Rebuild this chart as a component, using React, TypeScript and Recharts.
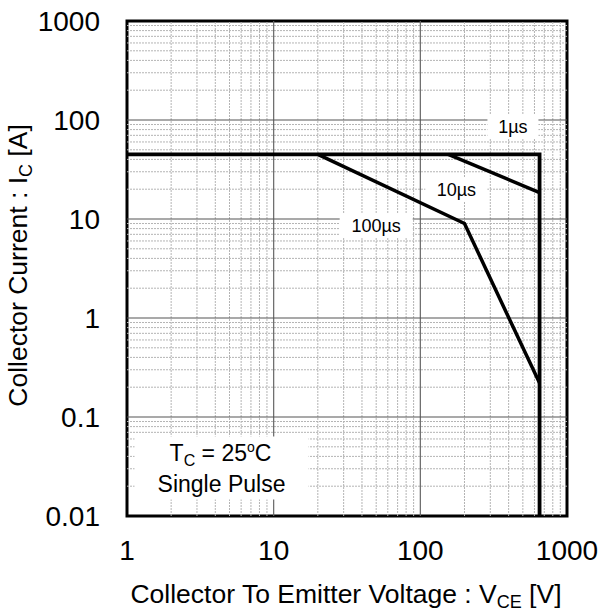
import React from 'react';
import { LineChart, Line, XAxis, YAxis, ReferenceLine, ReferenceArea, ReferenceDot, Label } from 'recharts';

const FONT = '"Liberation Sans", Arial, Helvetica, sans-serif';

const xTicks = [1, 10, 100, 1000];
const yTicks = [0.01, 0.1, 1, 10, 100, 1000];
const xMajorGrid = [10, 100];
const yMajorGrid = [0.1, 1, 10, 100];
const minorSteps = [2, 3, 4, 5, 6, 7, 8, 9];
const xDecades = [1, 10, 100];
const yDecades = [0.01, 0.1, 1, 10, 100];

// SOA boundaries (VCE [V], IC [A])
const pulse1us = [
  { v: 1, i: 45 },
  { v: 650, i: 45 },
  { v: 650, i: 0.01 },
];
const pulse10us = [
  { v: 155, i: 45 },
  { v: 650, i: 18.5 },
];
const pulse100us = [
  { v: 20, i: 45 },
  { v: 200, i: 9 },
  { v: 650, i: 0.22 },
];

const curveLabels = [
  { text: '1µs', v: 428, i: 85 },
  { text: '10µs', v: 176, i: 20 },
  { text: '100µs', v: 50, i: 8.5 },
];
const noteAnchor = { v: 4.41, i: 0.0302 };

const xMinorGrid = xDecades.flatMap((d) => minorSteps.map((s) => d * s));
const yMinorGrid = yDecades.flatMap((d) => minorSteps.map((s) => +(d * s).toPrecision(3)));

const CurveLabel = (text: string) => (props: any) => {
  const { cx, cy } = props;
  const w = text.length * 11 + 18;
  const h = 24;
  return (
    <g>
      <rect x={cx - w / 2} y={cy - h / 2} width={w} height={h} fill="#fff" />
      <text x={cx} y={cy + 6.5} textAnchor="middle" fontFamily={FONT} fontSize={18} fill="#000">
        {text}
      </text>
    </g>
  );
};

const NoteBox = (props: any) => {
  const { cx, cy } = props;
  return (
    <g>
      <rect x={cx - 87} y={cy - 32} width={174} height={63} fill="#fff" />
      <text x={cx - 1} y={cy - 7} textAnchor="middle" fontFamily={FONT} fontSize={23} fill="#000">
        T<tspan fontSize={16} dy={5}>C</tspan>
        <tspan dy={-5}> = 25</tspan>
        <tspan fontSize={14} dy={-9}>o</tspan>
        <tspan dy={9}>C</tspan>
      </text>
      <text x={cx} y={cy + 23.5} textAnchor="middle" fontFamily={FONT} fontSize={23} fill="#000">
        Single Pulse
      </text>
    </g>
  );
};

const XTitle = (props: any) => {
  const vb = props.viewBox || { x: 127, y: 516, width: 440, height: 96 };
  return (
    <text x={vb.x + vb.width / 2 - 1} y={vb.y + 87} textAnchor="middle" fontFamily={FONT} fontSize={26.5} fill="#000">
      Collector To Emitter Voltage : V<tspan fontSize={18} dy={5}>CE</tspan>
      <tspan dy={-5}> [V]</tspan>
    </text>
  );
};

const YTitle = (props: any) => {
  const vb = props.viewBox || { x: 0, y: 21, width: 127, height: 495 };
  const x = 27;
  const y = vb.y + vb.height / 2 - 3;
  return (
    <text x={x} y={y} transform={`rotate(-90, ${x}, ${y})`} textAnchor="middle" fontFamily={FONT} fontSize={26.5} fill="#000">
      Collector Current : I<tspan fontSize={18} dy={5}>C</tspan>
      <tspan dy={-5}> [A]</tspan>
    </text>
  );
};

export default function App() {
  return (
    <div style={{ position: 'absolute', left: 0, top: 0, width: 601, height: 612 }}>
      <LineChart width={601} height={612} margin={{ top: 21, right: 34, bottom: 0, left: 0 }}>
        <XAxis
          dataKey="v"
          type="number"
          scale="log"
          domain={[1, 1000]}
          ticks={xTicks}
          allowDataOverflow
          axisLine={false}
          tickLine={false}
          tickSize={0}
          tickMargin={24}
          height={96}
          interval={0}
          tick={{ fontFamily: FONT, fontSize: 28, fill: '#000' }}
        >
          <Label content={XTitle} />
        </XAxis>
        <YAxis
          dataKey="i"
          type="number"
          scale="log"
          domain={[0.01, 1000]}
          ticks={yTicks}
          allowDataOverflow
          axisLine={false}
          tickLine={false}
          tickSize={0}
          tickMargin={27}
          width={127}
          interval={0}
          tick={{ fontFamily: FONT, fontSize: 28, fill: '#000' }}
        >
          <Label content={YTitle} />
        </YAxis>

        {xMinorGrid.map((x) => (
          <ReferenceLine key={`xm${x}`} x={x} stroke="#b4b4b4" strokeWidth={1} strokeDasharray="2 1" />
        ))}
        {yMinorGrid.map((y) => (
          <ReferenceLine key={`ym${y}`} y={y} stroke="#b4b4b4" strokeWidth={1} strokeDasharray="2 1" />
        ))}
        {xMajorGrid.map((x) => (
          <ReferenceLine key={`xM${x}`} x={x} stroke="#666" strokeWidth={1.2} />
        ))}
        {yMajorGrid.map((y) => (
          <ReferenceLine key={`yM${y}`} y={y} stroke="#555" strokeWidth={1.2} />
        ))}

        {curveLabels.map((l) => (
          <ReferenceDot key={l.text} x={l.v} y={l.i} r={0} shape={CurveLabel(l.text)} />
        ))}
        <ReferenceDot x={noteAnchor.v} y={noteAnchor.i} r={0} shape={NoteBox} />

        <Line data={pulse1us} dataKey="i" type="linear" stroke="#000" strokeWidth={3.8} dot={false} isAnimationActive={false} />
        <Line data={pulse10us} dataKey="i" type="linear" stroke="#000" strokeWidth={3.5} dot={false} isAnimationActive={false} />
        <Line data={pulse100us} dataKey="i" type="linear" stroke="#000" strokeWidth={3.5} dot={false} isAnimationActive={false} />

        <ReferenceArea x1={1} x2={1000} y1={0.01} y2={1000} fill="none" stroke="#000" strokeWidth={3} ifOverflow="visible" />
      </LineChart>
    </div>
  );
}
